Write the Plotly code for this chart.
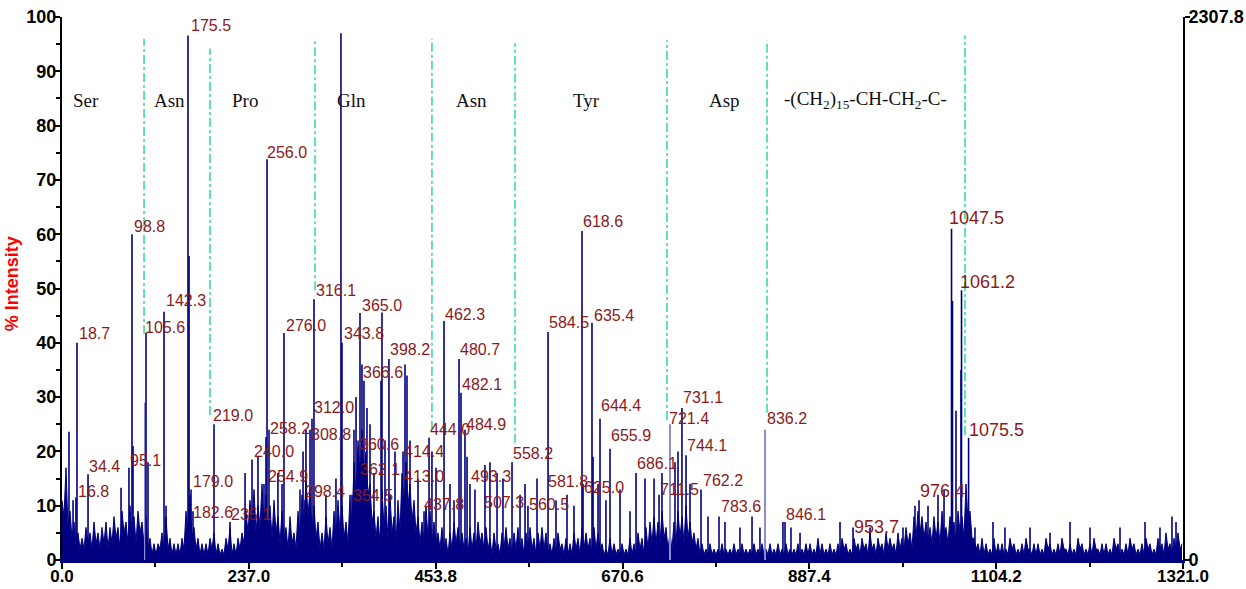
import plotly.graph_objects as go

# ---------------- data ----------------
X_RANGE = [20.2, 1321.0]
X_TICKS = [20.2, 237.0, 453.8, 670.6, 887.4, 1104.2, 1321.0]
X_TICK_TEXT = ["0.0", "237.0", "453.8", "670.6", "887.4", "1104.2", "1321.0"]
Y_RIGHT_MAX = 2307.8

# dense baseline noise, sampled on a regular m/z grid
NOISE_MZ_START = 20.2
NOISE_MZ_STEP = 4.6416
# local maxima of the noise at each grid point
NOISE_INT = [
    11, 17, 9, 7, 5, 4, 6, 5, 7, 5,
    6, 7, 6, 8, 6, 9, 7, 10, 8, 9,
    7, 8, 4, 3, 3, 5, 8, 4, 3, 3,
    4, 9, 12, 6, 4, 3, 3, 4, 5, 3,
    2, 4, 6, 3, 4, 5, 9, 11, 13, 10,
    14, 12, 10, 11, 8, 9, 6, 8, 5, 9,
    12, 15, 13, 10, 7, 5, 8, 6, 9, 11,
    10, 7, 12, 18, 22, 24, 20, 14, 9, 8,
    13, 10, 12, 8, 11, 16, 18, 14, 11, 8,
    7, 10, 9, 7, 5, 6, 4, 5, 7, 6,
    5, 4, 6, 5, 7, 5, 6, 4, 5, 3,
    5, 6, 4, 5, 6, 4, 5, 6, 4, 5,
    6, 5, 3, 4, 5, 3, 4, 3, 5, 4,
    6, 5, 4, 6, 5, 3, 2, 4, 3, 2,
    3, 2, 4, 3, 5, 4, 6, 7, 8, 7,
    9, 6, 5, 7, 9, 8, 10, 7, 5, 4,
    3, 2, 3, 2, 2, 3, 2, 2, 3, 2,
    3, 2, 2, 3, 2, 3, 2, 3, 2, 3,
    2, 3, 2, 2, 3, 2, 3, 3, 2, 4,
    3, 2, 3, 2, 3, 4, 3, 2, 4, 3,
    4, 3, 5, 3, 4, 3, 5, 4, 3, 5,
    4, 6, 5, 8, 9, 8, 7, 6, 8, 7,
    9, 6, 8, 7, 9, 8, 14, 9, 4, 3,
    4, 3, 2, 4, 3,
    3, 2, 4, 3, 2, 3, 4, 2, 3, 3,
    2, 4, 3, 2, 3, 4, 2, 3, 2, 4,
    3, 2, 3, 4, 2, 3, 3, 2, 4, 3,
    2, 3, 4, 3, 2, 3, 4, 3, 2, 4,
    3, 5, 3, 4, 5, 3,
]
# local minima of the noise, half-way between grid points
VALLEY_INT = [
    8, 6, 4, 3, 2, 2, 3, 2, 3, 2,
    3, 2, 3, 4, 2, 5, 3, 4, 3, 5,
    3, 2, 1, 1, 2, 2, 2, 1, 1, 1,
    2, 5, 4, 2, 1, 1, 1, 2, 1, 1,
    1, 2, 1, 1, 2, 3, 5, 6, 5, 6,
    6, 5, 4, 5, 3, 4, 2, 3, 2, 4,
    6, 8, 5, 4, 2, 2, 3, 2, 4, 5,
    4, 3, 6, 11, 15, 16, 12, 7, 4, 3,
    6, 4, 5, 3, 5, 9, 10, 7, 5, 3,
    3, 4, 3, 3, 2, 2, 1, 2, 3, 2,
    2, 1, 2, 2, 3, 2, 2, 1, 2, 1,
    2, 2, 1, 2, 2, 1, 2, 2, 1, 2,
    2, 1, 1, 1, 2, 1, 1, 1, 2, 1,
    2, 2, 1, 2, 2, 1, 1, 1, 1, 1,
    1, 1, 1, 1, 2, 1, 2, 3, 3, 3,
    4, 2, 2, 3, 4, 3, 4, 3, 2, 1,
    1, 1, 1, 1, 1, 1, 1, 1, 1, 1,
    1, 1, 1, 1, 1, 1, 1, 1, 1, 1,
    1, 1, 1, 1, 1, 1, 1, 1, 1, 1,
    1, 1, 1, 1, 1, 2, 1, 1, 2, 1,
    2, 1, 2, 1, 2, 1, 2, 2, 1, 2,
    2, 3, 2, 4, 5, 4, 3, 3, 4, 3,
    5, 3, 4, 3, 5, 4, 7, 4, 2, 1,
    1, 1, 1, 1, 1, 1, 1, 2, 1, 1,
    1, 2, 1, 1, 1, 1, 2, 1, 1, 1,
    2, 1, 1, 1, 2, 1, 1, 1, 2, 1,
    1, 1, 1, 2, 1, 1, 1, 2, 1, 1,
    1, 2, 1, 1, 2, 1, 2, 1, 2, 2,
]

# spectrum sticks
PEAK_MZ = [
    37.6, 36.4, 50.4, 97.9, 101.4, 117.7, 138.6, 166.4, 167.6, 169.9,
    172.2, 196.6, 215.1, 247.6, 256.9, 258.1, 260.4, 277.8, 302.2, 308.0,
    310.3, 312.6, 343.9, 345.1, 356.7, 363.7, 366.0, 368.3, 391.5, 399.6,
    415.9, 440.3, 446.1, 463.5, 480.9, 483.2, 487.8, 493.6, 511.0, 542.4,
    560.9, 584.2, 623.6, 624.8, 635.2, 644.5, 656.1, 686.3, 713.0, 739.6,
    744.3, 761.7, 782.6, 859.2, 938.1, 1014.7, 1052.4, 1053.5, 1057.6, 1063.4,
    1064.0, 1072.2,
    28.3, 33.0, 88.7, 102.6, 120.0, 140.9, 232.6, 240.7, 254.6, 270.8,
    275.5, 296.4, 299.9, 303.3, 326.5, 338.1, 359.0, 361.4, 370.6, 374.1,
    377.6, 382.2, 390.4, 395.0, 406.6, 418.2, 420.5, 424.0, 433.3, 449.5,
    454.2, 470.4, 475.1, 490.2, 499.4, 516.8, 525.0, 531.9, 551.7, 557.5,
    571.4, 593.4, 606.2, 614.3, 636.4, 642.2, 651.4, 667.7, 679.3, 696.7,
    707.2, 716.4, 731.5, 735.0, 748.9, 769.8, 789.5, 806.9, 820.9, 830.1,
    856.8, 866.1, 876.6, 923.0, 957.8, 996.1, 1010.0, 1025.1, 1036.7, 1043.7,
    1079.6, 1100.5, 1114.4, 1143.5, 1166.7, 1189.9, 1213.1, 1247.9, 1276.9, 1294.3,
    1308.2, 1312.9,
]
PEAK_INT = [
    40, 11.5, 15.8, 17, 60, 41.8, 45.7, 96.6, 56, 13,
    9, 25, 7, 19, 22.6, 73.8, 24, 41.8, 11, 24,
    26, 48, 97, 40, 12, 20, 45.5, 36, 45.6, 37,
    20, 9, 22.5, 44, 37, 30.8, 24, 14, 17.5, 18,
    10, 42, 60.6, 14, 43.7, 26, 20.5, 16, 12, 28,
    19.3, 13, 8, 7, 6, 11, 61, 47.7, 27.5, 35,
    49.7, 22.5,
    23.6, 11, 13.3, 21, 18, 10, 16, 18.5, 14, 16,
    14, 13, 20, 24, 12, 15, 24, 30, 33, 28,
    25, 16, 33, 22, 20, 36, 34, 22, 15, 20,
    17, 14, 11, 19, 13, 18, 16, 15, 12, 14,
    15, 11, 12, 10, 19, 14, 11, 13, 9, 15,
    15, 16, 18, 20, 14, 8, 7, 6, 8, 6,
    7, 6, 5, 7, 6, 6, 10, 10, 12, 13,
    6, 7, 6, 6, 5, 7, 6, 6, 7, 6,
    8, 7,
]
LIGHT_PEAK_MZ = [116.5, 725.7, 836.0]
LIGHT_PEAK_INT = [29, 25, 24]

# peak labels
LABEL_TEXT = [
    "18.7", "16.8", "34.4", "95.1", "98.8", "105.6", "142.3", "175.5", "179.0", "182.6",
    "219.0", "235.1", "240.0", "254.9", "256.0", "258.2", "276.0", "298.4", "308.8", "312.0",
    "316.1", "343.8", "354.5", "360.6", "362.1", "365.0", "366.6", "398.2", "414.4", "413.0",
    "437.8", "444.0", "462.3", "480.7", "482.1", "484.9", "493.3", "507.3", "558.2", "560.5",
    "581.8", "584.5", "618.6", "625.0", "635.4", "644.4", "655.9", "686.1", "711.5", "721.4",
    "731.1", "744.1", "762.2", "783.6", "836.2", "846.1", "953.7", "976.4", "1047.5", "1061.2",
    "1075.5",
]
LABEL_MZ = [
    38.8, 37.6, 50.4, 97.9, 102.6, 115.4, 139.7, 168.7, 171.1, 171.1,
    194.3, 215.1, 241.8, 258.1, 256.9, 260.4, 279.0, 301.0, 308.0, 311.5,
    313.8, 346.3, 356.7, 363.7, 364.8, 367.2, 368.3, 399.6, 415.9, 415.9,
    439.1, 446.1, 463.5, 480.9, 483.2, 487.8, 493.6, 508.7, 542.4, 560.9,
    583.0, 584.2, 623.6, 624.8, 636.4, 644.5, 656.1, 686.3, 713.0, 723.4,
    739.6, 744.3, 762.8, 783.7, 837.1, 859.2, 938.1, 1014.7, 1048.3, 1061.1,
    1071.5,
]
LABEL_INT = [
    41.8, 12.7, 17.3, 18.3, 61.5, 42.9, 47.7, 98.5, 14.4, 8.7,
    26.7, 8.3, 19.9, 15.3, 75.1, 24.3, 43.1, 12.6, 23.1, 28.0,
    49.7, 41.8, 11.8, 21.2, 16.6, 46.8, 34.5, 38.7, 19.9, 15.3,
    10.2, 24.0, 45.3, 38.7, 32.3, 24.9, 15.3, 10.5, 19.7, 10.2,
    14.4, 43.7, 62.4, 13.3, 45.0, 28.5, 22.9, 17.7, 12.9, 26.0,
    29.9, 21.0, 14.7, 9.8, 26.0, 8.3, 6.1, 12.7, 63.0, 51.2,
    24.0,
]
LABEL_BIG = ["953.7", "976.4", "1047.5", "1061.2", "1075.5"]

# residue regions
REGION_TEXT = ["Ser", "Asn", "Pro", "Gln", "Asn", "Tyr", "Asp",
               "-(CH<sub>2</sub>)<sub>15</sub>-CH-CH<sub>2</sub>-C-"]
REGION_MZ = [48.6, 145.5, 232.6, 355.6, 494.8, 629.4, 789.5, 952.0]
REGION_INT = 84.7

DIVIDER_MZ = [115.4, 191.9, 313.8, 449.5, 545.9, 722.2, 838.3, 1068.0]
DIVIDER_LOW = [41.6, 26.7, 49.7, 24.0, 21.6, 25.8, 27.1, 23.0]
DIVIDER_HIGH = [96.0, 94.2, 95.6, 96.0, 95.2, 95.7, 95.7, 96.6]

# ---------------- styling ----------------
NAVY = "#000080"
LIGHT = "#8C8CC8"
LABEL_COLOR = "#8B1A1A"
GREEN = "#2FD99E"
SANS = "Arial, Liberation Sans, sans-serif"
SERIF = "Times New Roman, Liberation Serif, serif"

fig = go.Figure()

noise_x, noise_y = [], []
for i, h in enumerate(NOISE_INT):
    noise_x.append(NOISE_MZ_START + i * NOISE_MZ_STEP)
    noise_y.append(h)
    if i < len(VALLEY_INT):
        noise_x.append(NOISE_MZ_START + (i + 0.5) * NOISE_MZ_STEP)
        noise_y.append(VALLEY_INT[i])
fig.add_trace(go.Scatter(x=noise_x, y=noise_y, mode="lines",
                         line=dict(color=NAVY, width=1), fill="tozeroy",
                         fillcolor=NAVY, hoverinfo="skip", showlegend=False))


def sticks(xs, ys):
    sx, sy = [], []
    for xv, yv in zip(xs, ys):
        sx += [xv, xv, None]
        sy += [0, yv, None]
    return sx, sy


sx, sy = sticks(LIGHT_PEAK_MZ, LIGHT_PEAK_INT)
fig.add_trace(go.Scatter(x=sx, y=sy, mode="lines", line=dict(color=LIGHT, width=2),
                         hoverinfo="skip", showlegend=False))
sx, sy = sticks(PEAK_MZ, PEAK_INT)
fig.add_trace(go.Scatter(x=sx, y=sy, mode="lines", line=dict(color=NAVY, width=1.6),
                         hoverinfo="skip", showlegend=False))

# dash-dot dividers
dx, dy = [], []
for xv, lo, hi in zip(DIVIDER_MZ, DIVIDER_LOW, DIVIDER_HIGH):
    dx += [xv, xv, None]
    dy += [lo, hi, None]
fig.add_trace(go.Scatter(x=dx, y=dy, mode="lines",
                         line=dict(color=GREEN, width=1.5, dash="dashdot"),
                         hoverinfo="skip", showlegend=False))

# invisible trace for right axis
fig.add_trace(go.Scatter(x=[X_RANGE[0]], y=[0], yaxis="y2", mode="markers",
                         marker=dict(opacity=0), hoverinfo="skip", showlegend=False))

annotations = []
for t, xv, yv in zip(LABEL_TEXT, LABEL_MZ, LABEL_INT):
    annotations.append(dict(x=xv, y=yv, text=t, showarrow=False, xanchor="left",
                            yanchor="middle", borderpad=0,
                            font=dict(family=SANS, size=18 if t in LABEL_BIG else 16,
                                      color=LABEL_COLOR)))
for t, xv in zip(REGION_TEXT, REGION_MZ):
    annotations.append(dict(x=xv, y=REGION_INT, text=t, showarrow=False,
                            xanchor="center", yanchor="middle",
                            font=dict(family=SERIF, size=19, color="#111111")))
annotations.append(dict(xref="paper", yref="paper", x=-50 / 1121, y=0.508,
                        text="% Intensity", textangle=-90, showarrow=False,
                        xanchor="center", yanchor="middle",
                        font=dict(family=SANS, size=18, color="#FF0000", weight="bold")))

tickfont = dict(family=SANS, size=18, color="black", weight="bold")
xtickfont = dict(family=SANS, size=17, color="black", weight="bold")

fig.update_layout(
    width=1246, height=589,
    margin=dict(l=62, r=63, t=17, b=29, autoexpand=False),
    paper_bgcolor="white", plot_bgcolor="white",
    showlegend=False,
    annotations=annotations,
    xaxis=dict(range=X_RANGE, tickmode="array", tickvals=X_TICKS, ticktext=X_TICK_TEXT,
               automargin=False, ticklabelstandoff=-7,
               showgrid=False, zeroline=False, showline=True, linecolor=NAVY, linewidth=3,
               ticks="outside", ticklen=6, tickwidth=2, tickcolor="black",
               minor=dict(tickmode="linear", tick0=128.6, dtick=216.8, ticks="outside",
                          ticklen=4, tickwidth=1.5, tickcolor="black"),
               tickfont=xtickfont),
    yaxis=dict(range=[0, 100], tickmode="linear", tick0=0, dtick=10,
               automargin=False, ticklabelstandoff=-6,
               showgrid=False, zeroline=False, showline=True, linecolor="black", linewidth=2,
               ticks="outside", ticklen=6, tickwidth=2, tickcolor="black",
               minor=dict(tickmode="linear", tick0=5, dtick=10, ticks="outside",
                          ticklen=4, tickwidth=1.5, tickcolor="black"),
               tickfont=tickfont),
    yaxis2=dict(range=[0, Y_RIGHT_MAX], overlaying="y", side="right",
                automargin=False, ticklabelstandoff=-5,
                tickmode="array", tickvals=[0, Y_RIGHT_MAX], ticktext=["0", "2307.8"],
                showgrid=False, zeroline=False, showline=True, linecolor="black",
                linewidth=2, ticks="outside", ticklen=5, tickwidth=2, tickcolor="black",
                tickfont=tickfont),
)

fig.write_html("out.html")
